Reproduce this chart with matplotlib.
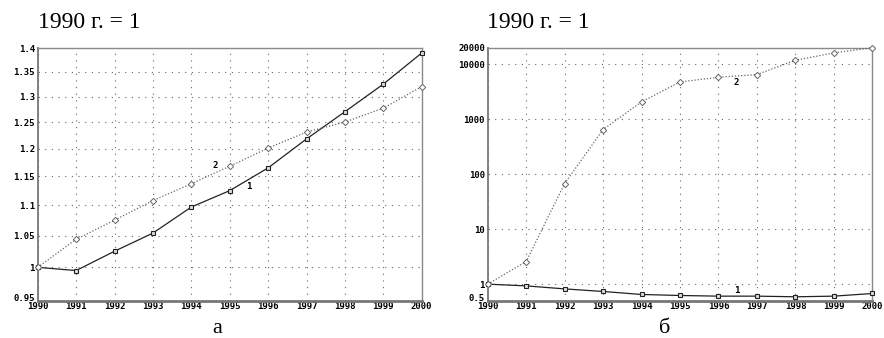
import matplotlib
matplotlib.use("Agg")
import matplotlib.pyplot as plt
from matplotlib.ticker import FixedLocator, NullLocator

years = [1990, 1991, 1992, 1993, 1994, 1995, 1996, 1997, 1998, 1999, 2000]

# Panel а
a_series1 = [1.0, 0.995, 1.025, 1.054, 1.097, 1.125, 1.165, 1.218, 1.27, 1.325, 1.39]
a_series2 = [1.0, 1.044, 1.075, 1.108, 1.137, 1.168, 1.201, 1.231, 1.25, 1.277, 1.32]
a_yticks = [0.95, 1.0, 1.05, 1.1, 1.15, 1.2, 1.25, 1.3, 1.35, 1.4]
a_yticklabels = ["0.95", "1", "1.05", "1.1", "1.15", "1.2", "1.25", "1.3", "1.35", "1.4"]

# Panel б
b_series1 = [1.0, 0.93, 0.82, 0.736, 0.649, 0.622, 0.605, 0.605, 0.589, 0.605, 0.676]
b_series2 = [1.0, 2.58, 67.7, 649, 2066, 4773, 5800, 6490, 11830, 16070, 20000]
b_yticks = [0.5, 1, 10, 100, 1000, 10000, 20000]
b_yticklabels = ["0.5", "1", "10", "100", "1000", "10000", "20000"]

title_text = "1990 г. = 1"
panel_labels = ["а", "б"]
series_labels = ["1", "2"]

W, H = 884, 338
fig = plt.figure(figsize=(W / 100, H / 100), dpi=100)

def px_axes(x0, y0, x1, y1):
    return fig.add_axes([x0 / W, 1 - y1 / H, (x1 - x0) / W, (y1 - y0) / H])

axA = px_axes(37.7, 48.3, 421.7, 300.7)
axB = px_axes(487.7, 47.7, 872.3, 300.7)

tick_font = dict(family="DejaVu Sans Mono", weight="bold", size=6.5)
serif = ["Liberation Serif", "DejaVu Serif"]

def style(ax, yticks, ylabels, ylim):
    ax.set_yscale("log")
    ax.set_xlim(years[0], years[-1])
    ax.set_ylim(*ylim)
    ax.xaxis.set_major_locator(FixedLocator(years))
    ax.set_xticklabels([str(y) for y in years], **tick_font)
    ax.yaxis.set_major_locator(FixedLocator(yticks))
    ax.yaxis.set_minor_locator(NullLocator())
    labs = ax.set_yticklabels(ylabels, **tick_font)
    labs[0].set_va("baseline")
    ax.grid(True, which="major", color="#666666", linestyle=(0, (1, 5)), linewidth=0.8)
    ax.tick_params(axis="both", length=2, width=0.8, color="#555555", pad=1, direction="inout")
    ax.tick_params(axis="x", pad=0)
    for side in ["top", "right"]:
        ax.spines[side].set_color("#8a8a8a")
        ax.spines[side].set_linewidth(1.0)
    ax.spines["left"].set_color("#777777")
    ax.spines["left"].set_linewidth(1.3)
    ax.spines["bottom"].set_color("#777777")
    ax.spines["bottom"].set_linewidth(2.0)

def draw(ax, s1, s2):
    ax.plot(years, s1, color="#222222", linewidth=0.9, linestyle="-",
            marker="s", markersize=3.2, markerfacecolor="#dddddd",
            markeredgecolor="#222222", markeredgewidth=0.8, clip_on=False, zorder=3)
    ax.plot(years, s2, color="#666666", linewidth=0.9, linestyle=(0, (1, 1.5)),
            marker="D", markersize=3.2, markerfacecolor="white",
            markeredgecolor="#666666", markeredgewidth=0.7, clip_on=False, zorder=3)

style(axA, a_yticks, a_yticklabels, (0.95, 1.4))
draw(axA, a_series1, a_series2)
axA.text(1995.51, 1.133, series_labels[0], ha="center", va="center", **tick_font)
axA.text(1994.62, 1.170, series_labels[1], ha="center", va="center", **tick_font)

style(axB, b_yticks, b_yticklabels, (0.5, 20000))
draw(axB, b_series1, b_series2)
axB.text(1996.47, 0.757, series_labels[0], ha="center", va="center", **tick_font)
axB.text(1996.47, 4640, series_labels[1], ha="center", va="center", **tick_font)

fig.text(38 / W, 1 - 28 / H, title_text, family=serif, fontsize=17, ha="left", va="baseline")
fig.text(487 / W, 1 - 28 / H, title_text, family=serif, fontsize=17, ha="left", va="baseline")
fig.text(217 / W, 1 - 333 / H, panel_labels[0], family=serif, fontsize=16, ha="center", va="baseline")
fig.text(665 / W, 1 - 333 / H, panel_labels[1], family=serif, fontsize=16, ha="center", va="baseline")

fig.savefig("out.png", dpi=100)
